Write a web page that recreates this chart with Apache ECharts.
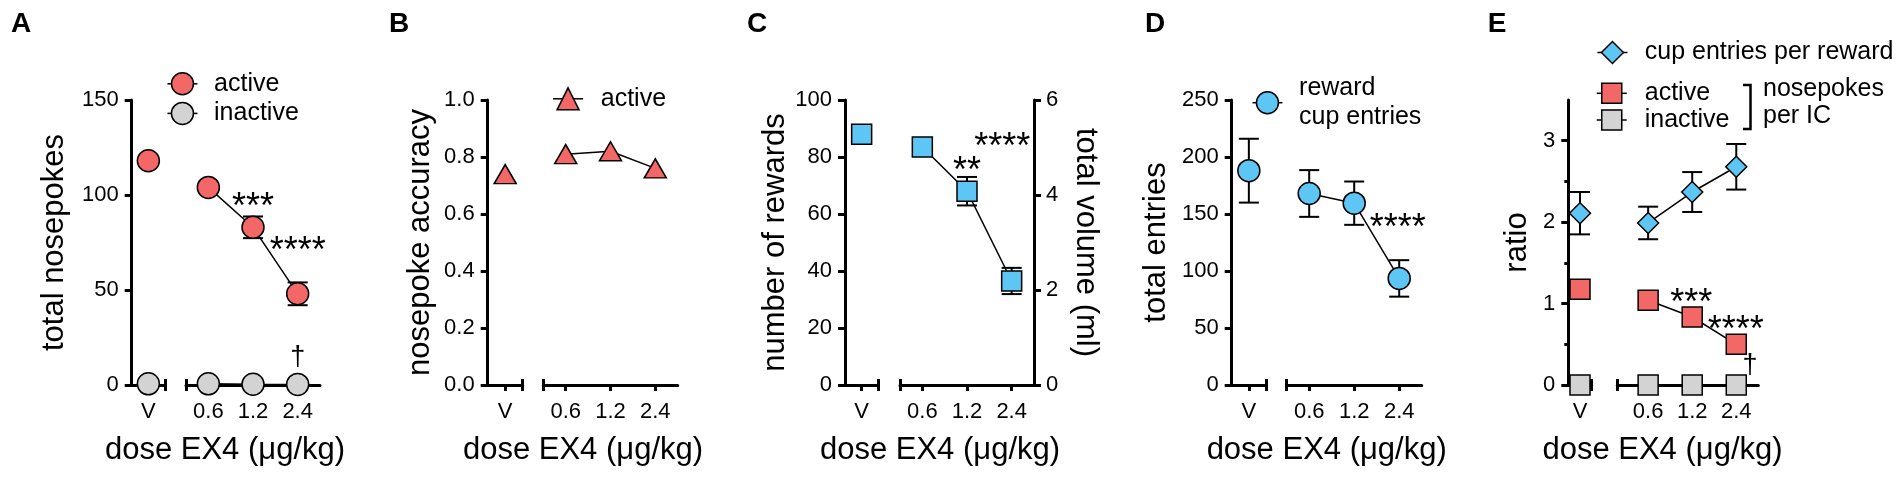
<!DOCTYPE html>
<html>
<head>
<meta charset="utf-8">
<title>EX4 dose response</title>
<script src="https://cdn.jsdelivr.net/npm/echarts@6/dist/echarts.min.js"></script>
<style>
html, body { margin: 0; padding: 0; background: #fff; }
#chart { width: 1902px; height: 478px; }
</style>
</head>
<body>
<div id="chart"></div>
<script>
const FONT = '"Liberation Sans", Arial, Helvetica, sans-serif';
const RED = '#F46767';
const BLUE = '#5DC6F4';
const GREY = '#D3D3D3';

// doses in ug/kg, V = vehicle
const doses = ['V', '0.6', '1.2', '2.4'];

// A - total nosepokes
const activeNosepokes = [118, 104, 83, 48];
const activeNosepokesSem = [0, 0, 5.7, 6];
const inactiveNosepokes = [0.6, 0.6, 0.4, 0.3];
const nosepokeTicks = [0, 50, 100, 150];

// B - nosepoke accuracy
const activeAccuracy = [0.74, 0.81, 0.82, 0.76];
const accuracyTicks = [0, 0.2, 0.4, 0.6, 0.8, 1.0];

// C - rewards (left) / volume (right)
const rewards = [88, 83.5, 68, 36.5];
const rewardsSem = [0, 0, 5, 4.6];
const rewardTicks = [0, 20, 40, 60, 80, 100];
const volumeTicks = [0, 2, 4, 6];

// D - reward cup entries
const cupEntries = [188, 168, 159.5, 93.5];
const cupEntriesSem = [28, 20.5, 19, 16];
const entryTicks = [0, 50, 100, 150, 200, 250];

// E - ratios
const entriesPerReward = [2.11, 1.99, 2.37, 2.68];
const entriesPerRewardSem = [0.26, 0.2, 0.245, 0.28];
const activePerIC = [1.175, 1.04, 0.835, 0.5];
const inactivePerIC = [0, 0, 0, 0];
const ratioTicks = [0, 1, 2, 3];
const ratioMinorTicks = [0.5, 1.5, 2.5];
const ratioMax = 3.5;

// significance marks: [dose position, value, text]
const marksA = [[2, 97.4, '***'], [3, 74.6, '****'], [3, 13.7, '†']];
const marksC = [[2, 77.8, '**'], [2.79, 86.1, '****']];
const marksD = [[2.97, 144, '****']];
const marksE = [[1.98, 1.095, '***'], [2.99, 0.77, '****'], [3.31, 0.225, '†']];

const legendText = {
  'A-active': 'active',
  'A-inactive': 'inactive',
  'B-active': 'active',
  'D-cup': 'reward\ncup entries',
  'E-cup': 'cup entries per reward',
  'E-active': 'active',
  'E-inactive': 'inactive'
};

const TOP = 100;
const HEIGHT = 285;
const CAP = 10;
const AXIS_LINE = { color: '#000', width: 3 };
const TICK_LEN = 6;

const option = {
  animation: false,
  backgroundColor: '#fff',
  grid: [],
  xAxis: [],
  yAxis: [],
  series: [],
  legend: [],
  graphic: []
};

function labelStyle(extra) {
  return Object.assign({ fontSize: 22, color: '#000', fontFamily: FONT }, extra);
}

// main x axis of one segment of the broken axis
function xSegment(gridIndex, min, max, tickValues, labelValues) {
  return {
    type: 'value', gridIndex: gridIndex, position: 'bottom', min: min, max: max,
    axisLine: { show: true, onZero: false, lineStyle: AXIS_LINE },
    axisTick: { show: true, length: TICK_LEN, customValues: tickValues, lineStyle: AXIS_LINE },
    axisLabel: labelStyle({ margin: 16, customValues: labelValues, formatter: v => doses[Math.round(v)] }),
    splitLine: { show: false }
  };
}

// upper half of the end caps at the break
function xCap(gridIndex, min, max, capValue) {
  return {
    type: 'value', gridIndex: gridIndex, position: 'bottom', min: min, max: max,
    axisLine: { show: false, onZero: false },
    axisTick: { show: true, inside: true, length: TICK_LEN, customValues: [capValue], lineStyle: AXIS_LINE },
    axisLabel: { show: false },
    splitLine: { show: false }
  };
}

function panel(cfg) {
  const g = option.grid.length;
  option.grid.push({ left: cfg.seg1[0], width: cfg.seg1[1] - cfg.seg1[0], top: TOP, height: HEIGHT });
  option.grid.push({ left: cfg.seg2[0], width: cfg.seg2[1] - cfg.seg2[0], top: TOP, height: HEIGHT });

  const x = option.xAxis.length;
  option.xAxis.push(xSegment(g, -1, 1, [0, 1], [0]));
  option.xAxis.push(xCap(g, -1, 1, 1));
  option.xAxis.push(xSegment(g + 1, cfg.min2, 3.5, [cfg.min2, 1, 2, 3], [1, 2, 3]));
  option.xAxis.push(xCap(g + 1, cfg.min2, 3.5, cfg.min2));

  const ticks = cfg.ticks;
  const yMax = cfg.max !== undefined ? cfg.max : ticks[ticks.length - 1];
  const y = option.yAxis.length;
  option.yAxis.push({
    type: 'value', gridIndex: g, position: 'left', min: ticks[0], max: yMax,
    interval: ticks[1] - ticks[0],
    axisLine: { show: true, onZero: false, lineStyle: AXIS_LINE },
    axisTick: { show: true, length: 7, customValues: ticks, lineStyle: AXIS_LINE },
    axisLabel: labelStyle({ margin: 13, customValues: ticks, formatter: cfg.format || (v => String(v)) }),
    splitLine: { show: false },
    name: cfg.title, nameLocation: 'middle', nameGap: cfg.nameGap,
    nameTextStyle: { fontSize: 31, color: '#000', fontFamily: FONT }
  });
  option.yAxis.push({
    type: 'value', gridIndex: g + 1, position: 'left', min: ticks[0], max: yMax, show: false,
    axisLine: { onZero: false }, splitLine: { show: false }
  });
  return { g: g, x1: x, x2: x + 2, y1: y, y2: y + 1 };
}

function lineSeries(name, xi, yi, data, sym) {
  return {
    type: 'line', name: name, xAxisIndex: xi, yAxisIndex: yi, data: data,
    symbol: sym.symbol, symbolSize: sym.size, showSymbol: true, showAllSymbol: true,
    clip: false, silent: true, z: 3,
    itemStyle: { color: sym.color, borderColor: '#000', borderWidth: 1.5 },
    lineStyle: { color: '#000', width: 1.5 },
    emphasis: { disabled: true }
  };
}

function errorBars(xi, yi, data) {
  return {
    type: 'custom', xAxisIndex: xi, yAxisIndex: yi, data: data, silent: true, z: 2, clip: false,
    renderItem: function (params, api) {
      const x = api.value(0), m = api.value(1), e = api.value(2);
      if (!e) return null;
      const hi = api.coord([x, m + e]);
      const lo = api.coord([x, m - e]);
      const st = { stroke: '#000', lineWidth: 2 };
      return {
        type: 'group',
        children: [
          { type: 'line', shape: { x1: hi[0], y1: hi[1], x2: lo[0], y2: lo[1] }, style: st },
          { type: 'line', shape: { x1: hi[0] - CAP, y1: hi[1], x2: hi[0] + CAP, y2: hi[1] }, style: st },
          { type: 'line', shape: { x1: lo[0] - CAP, y1: lo[1], x2: lo[0] + CAP, y2: lo[1] }, style: st }
        ]
      };
    }
  };
}

function marks(xi, yi, list) {
  return {
    type: 'custom', xAxisIndex: xi, yAxisIndex: yi, silent: true, z: 4, clip: false,
    data: list.map(m => [m[0], m[1]]),
    renderItem: function (params, api) {
      const m = list[params.dataIndex];
      const p = api.coord([m[0], m[1]]);
      const dagger = m[2] === '†';
      return {
        type: 'text', x: p[0], y: p[1] + (dagger ? -1 : 8.5),
        style: {
          text: m[2], font: (dagger ? 27 : 36) + 'px ' + FONT, fill: '#000',
          align: 'center', verticalAlign: 'middle', textAlign: 'center', textVerticalAlign: 'middle'
        }
      };
    }
  };
}

// vehicle point sits on its own segment; the doses are joined by a line
function plot(ax, name, values, sem, sym) {
  option.series.push(lineSeries(name, ax.x1, ax.y1, [[0, values[0]]], sym));
  option.series.push(lineSeries(name, ax.x2, ax.y2, values.slice(1).map((v, i) => [i + 1, v]), sym));
  if (sem) {
    option.series.push(errorBars(ax.x1, ax.y1, [[0, values[0], sem[0]]]));
    option.series.push(errorBars(ax.x2, ax.y2, values.slice(1).map((v, i) => [i + 1, v, sem[i + 1]])));
  }
}

function legend(names, left, top, itemHeight, gap, pad, extraText) {
  option.legend.push({
    orient: 'vertical', left: left, top: top, padding: 0,
    itemWidth: 30, itemHeight: itemHeight, itemGap: gap, selectedMode: false,
    data: names, formatter: n => legendText[n],
    itemStyle: { borderColor: '#000', borderWidth: 1.5 },
    lineStyle: { color: '#000', width: 1.5 },
    textStyle: Object.assign({ fontSize: 25, color: '#000', fontFamily: FONT, padding: [0, 0, 0, pad] }, extraText)
  });
}

function text(str, x, y, font, rotation) {
  option.graphic.push({
    type: 'text', x: x, y: y, rotation: rotation || 0, silent: true,
    style: {
      text: str, font: font, fill: '#000',
      align: 'center', verticalAlign: 'middle', textAlign: 'center', textVerticalAlign: 'middle'
    }
  });
}

const circle = color => ({ symbol: 'circle', size: 22, color: color });
const square = color => ({ symbol: 'rect', size: 20, color: color });

// ---- A
const axA = panel({ seg1: [131.7, 165], seg2: [186, 320], min2: 0.5, ticks: nosepokeTicks,
  title: 'total nosepokes', nameGap: 62 });
plot(axA, 'A-inactive', inactiveNosepokes, null, circle(GREY));
plot(axA, 'A-active', activeNosepokes, activeNosepokesSem, circle(RED));
option.series.push(marks(axA.x2, axA.y2, marksA));
legend(['A-active', 'A-inactive'], 166.7, 71.3, 27.5, 4.6, 11.6);

// ---- B
const axB = panel({ seg1: [487.7, 522.7], seg2: [543.3, 677.7], min2: 0.5, ticks: accuracyTicks,
  title: 'nosepoke accuracy', nameGap: 52, format: v => v.toFixed(1) });
plot(axB, 'B-active', activeAccuracy, null, { symbol: 'triangle', size: [22, 19], color: RED });
legend(['B-active'], 552.3, 86.3, 27.5, 0, 12.7);

// ---- C
const axC = panel({ seg1: [845, 878.3], seg2: [900, 1034], min2: 0.5, ticks: rewardTicks,
  title: 'number of rewards', nameGap: 54.5 });
option.yAxis.push({
  type: 'value', gridIndex: axC.g + 1, position: 'right', min: volumeTicks[0],
  max: volumeTicks[volumeTicks.length - 1], interval: volumeTicks[1] - volumeTicks[0],
  axisLine: { show: true, onZero: false, lineStyle: AXIS_LINE },
  axisTick: { show: true, length: 7, customValues: volumeTicks, lineStyle: AXIS_LINE },
  axisLabel: labelStyle({ margin: 12, customValues: volumeTicks }),
  splitLine: { show: false },
  name: 'total volume (ml)', nameLocation: 'middle', nameGap: 36.5, nameRotate: -90,
  nameTextStyle: { fontSize: 31, color: '#000', fontFamily: FONT }
});
plot(axC, 'C-rewards', rewards, rewardsSem, square(BLUE));
option.series.push(marks(axC.x2, axC.y2, marksC));

// ---- D
const axD = panel({ seg1: [1231.7, 1266], seg2: [1286.7, 1421.7], min2: 0.5, ticks: entryTicks,
  title: 'total entries', nameGap: 59.5 });
plot(axD, 'D-cup', cupEntries, cupEntriesSem, circle(BLUE));
option.series.push(marks(axD.x2, axD.y2, marksD));
legend(['D-cup'], 1251.7, 73.7, 27.5, 0, 11.6, { lineHeight: 29 });

// ---- E
const axE = panel({ seg1: [1568.3, 1591.7], seg2: [1617.3, 1758.3], min2: 0.3, ticks: ratioTicks,
  max: ratioMax, title: 'ratio', nameGap: 35 });
option.yAxis.push({
  type: 'value', gridIndex: axE.g, position: 'left', min: 0, max: ratioMax,
  axisLine: { show: false, onZero: false },
  axisTick: { show: true, length: 4, customValues: ratioMinorTicks, lineStyle: AXIS_LINE },
  axisLabel: { show: false }, splitLine: { show: false }
});
plot(axE, 'E-inactive', inactivePerIC, null, square(GREY));
plot(axE, 'E-active', activePerIC, null, square(RED));
plot(axE, 'E-cup', entriesPerReward, entriesPerRewardSem, { symbol: 'diamond', size: 21, color: BLUE });
option.series.push(marks(axE.x2, axE.y2, marksE));
legend(['E-cup'], 1596.7, 40, 27.5, 0, 12.3);
legend(['E-active', 'E-inactive'], 1596, 80.8, 25, 1.7, 13);

option.graphic.push({
  type: 'polyline', silent: true,
  shape: { points: [[1743, 85], [1750.5, 85], [1750.5, 129], [1743, 129]] },
  style: { stroke: '#000', lineWidth: 2.5, fill: null }
});
option.graphic.push({
  type: 'text', x: 1763, y: 89.5, silent: true,
  style: { text: 'nosepokes', font: '25px ' + FONT, fill: '#000', align: 'left', verticalAlign: 'middle', textAlign: 'left', textVerticalAlign: 'middle' }
});
option.graphic.push({
  type: 'text', x: 1763, y: 116, silent: true,
  style: { text: 'per IC', font: '25px ' + FONT, fill: '#000', align: 'left', verticalAlign: 'middle', textAlign: 'left', textVerticalAlign: 'middle' }
});

// panel letters and shared x titles
const letterFont = 'bold 28px ' + FONT;
text('A', 21, 24, letterFont);
text('B', 399, 24, letterFont);
text('C', 757, 24, letterFont);
text('D', 1155, 24, letterFont);
text('E', 1497, 24, letterFont);

const xTitle = 'dose EX4 (μg/kg)';
const titleFont = '31px ' + FONT;
text(xTitle, 225, 450, titleFont);
text(xTitle, 583, 450, titleFont);
text(xTitle, 940, 450, titleFont);
text(xTitle, 1326.7, 450, titleFont);
text(xTitle, 1662.5, 450, titleFont);

const chart = echarts.init(document.getElementById('chart'), null, { renderer: 'canvas' });
chart.setOption(option);
</script>
</body>
</html>
